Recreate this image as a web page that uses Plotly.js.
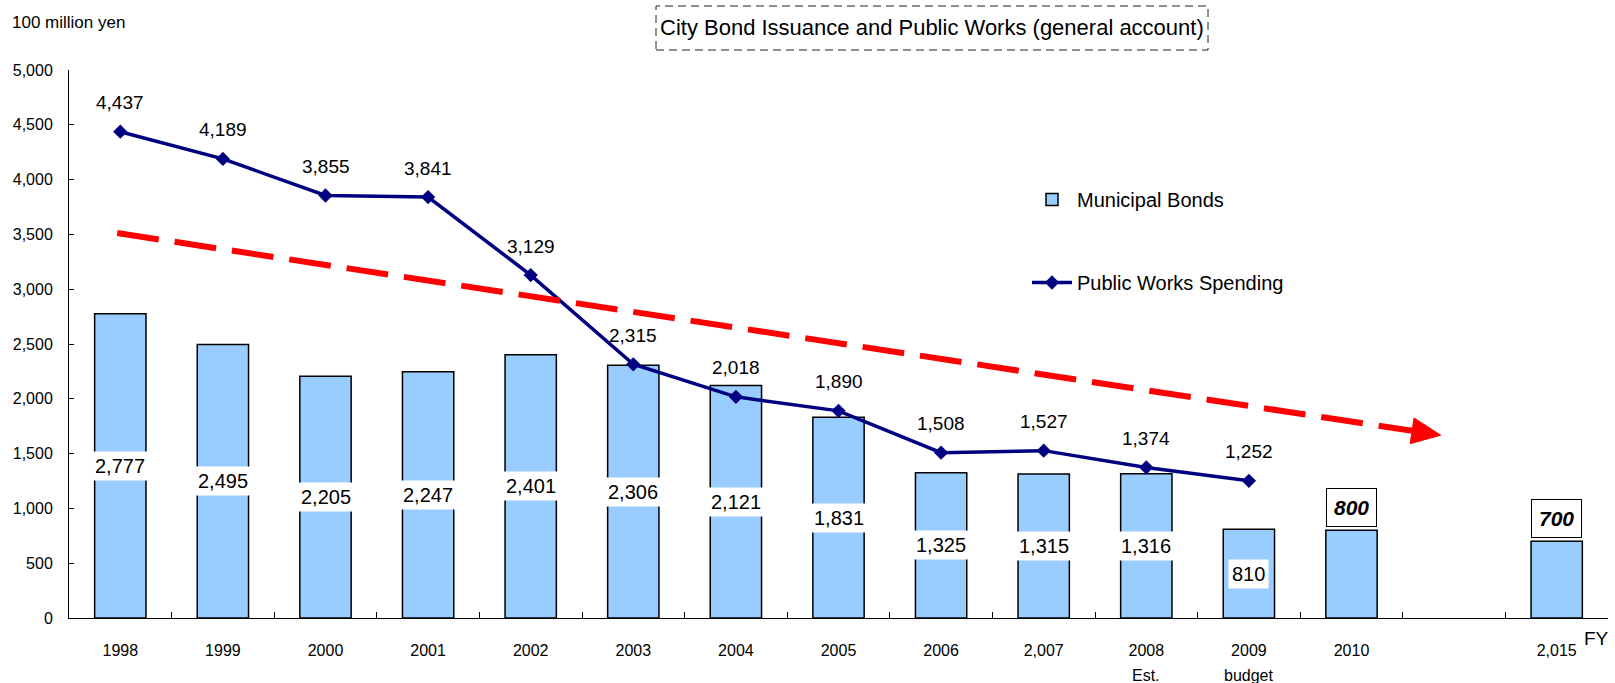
<!DOCTYPE html>
<html>
<head>
<meta charset="utf-8">
<script src="https://cdn.plot.ly/plotly-3.0.1.min.js"></script>
<style>
  html, body { margin: 0; padding: 0; background: #ffffff; }
  #chart { width: 1615px; height: 683px; }
</style>
</head>
<body>
<div id="chart"></div>
<script>
// ---------------- data ----------------
const categories = ["1998","1999","2000","2001","2002","2003","2004","2005","2006","2,007","2008","2009","2010"," ","2,015"];
const bondValues = [2777, 2495, 2205, 2247, 2401, 2306, 2121, 1831, 1325, 1315, 1316, 810, 800, null, 700];
const worksYears = ["1998","1999","2000","2001","2002","2003","2004","2005","2006","2,007","2008","2009"];
const worksValues = [4437, 4189, 3855, 3841, 3129, 2315, 2018, 1890, 1508, 1527, 1374, 1252];
const targetYears = ["2010", "2,015"];
const subLabelYears = ["2008", "2009"];
const subLabelTexts = ["Est.", "budget"];
// downward trend arrow (category index, value)
const trendX = [-0.03, 12.87];
const trendY = [3512, 1668];

// ---------------- geometry ----------------
const W = 1615, H = 683;
const M = { l: 69, r: 7, t: 70, b: 65 };
const PW = W - M.l - M.r, PH = H - M.t - M.b;
const YMAX = 5000;
const px2paperX = x => (x - M.l) / PW;
const px2paperY = y => (H - M.b - y) / PH;
const catIndex = c => categories.indexOf(c);

const FONT = "Liberation Sans, Arial, sans-serif";
const fmt = v => v.toLocaleString("en-US");

// ---------------- traces ----------------
const bars = {
  type: "bar",
  name: "Municipal Bonds",
  x: categories,
  y: bondValues,
  marker: { color: "#99CCFF", line: { color: "#000000", width: 1.5 } },
  legendgroup: "a",
  hoverinfo: "x+y"
};
const line = {
  type: "scatter",
  mode: "lines+markers",
  name: "Public Works Spending",
  x: worksYears,
  y: worksValues,
  line: { color: "#000080", width: 3.5 },
  marker: { symbol: "diamond", size: 11, color: "#000080" },
  legendgroup: "b",
  hoverinfo: "x+y"
};

// ---------------- annotations ----------------
const annotations = [];
// bar value labels
categories.forEach((c, i) => {
  const v = bondValues[i];
  if (v === null) return;
  if (targetYears.includes(c)) {
    annotations.push({
      x: i, y: v, xref: "x", yref: "y",
      text: "<b><i>" + fmt(v) + "</i></b>",
      showarrow: false, yanchor: "bottom", yshift: 3,
      font: { family: FONT, size: 21, color: "#000" },
      bgcolor: "#ffffff", bordercolor: "#000000", borderwidth: 1, borderpad: 7
    });
  } else {
    annotations.push({
      x: i, y: v / 2, xref: "x", yref: "y",
      text: fmt(v),
      showarrow: false,
      font: { family: FONT, size: 20, color: "#000" },
      bgcolor: "#ffffff", borderpad: 3
    });
  }
});
// line value labels
worksYears.forEach((c, i) => {
  annotations.push({
    x: catIndex(c), y: worksValues[i], xref: "x", yref: "y",
    text: fmt(worksValues[i]),
    showarrow: false, yshift: 29,
    font: { family: FONT, size: 19, color: "#000" }
  });
});
// sub labels below the x tick labels
subLabelYears.forEach((c, i) => {
  annotations.push({
    x: catIndex(c), y: px2paperY(675), xref: "x", yref: "paper",
    text: subLabelTexts[i], showarrow: false, yanchor: "middle",
    font: { family: FONT, size: 16, color: "#000" }
  });
});
// unit label
annotations.push({
  x: px2paperX(10), y: px2paperY(22), xref: "paper", yref: "paper",
  xanchor: "left", yanchor: "middle", showarrow: false,
  text: "100 million yen", font: { family: FONT, size: 17, color: "#000" }
});
// FY label
annotations.push({
  x: px2paperX(1611), y: px2paperY(638), xref: "paper", yref: "paper",
  xanchor: "right", yanchor: "middle", showarrow: false,
  text: "FY", font: { family: FONT, size: 19, color: "#000" }
});
// title
annotations.push({
  x: px2paperX(932), y: px2paperY(28), xref: "paper", yref: "paper",
  xanchor: "center", yanchor: "middle", showarrow: false,
  text: "City Bond Issuance and Public Works (general account)",
  font: { family: FONT, size: 22, color: "#000" }
});

// ---------------- shapes ----------------
const pxPerX = PW / categories.length;
const pxPerY = PH / YMAX;
const sx = trendX[0] * pxPerX, sy = -trendY[0] * pxPerY;
const ex = trendX[1] * pxPerX, ey = -trendY[1] * pxPerY;
const len = Math.hypot(ex - sx, ey - sy);
const ux = (ex - sx) / len, uy = (ey - sy) / len;
const headLen = 29, headHalf = 13;
const bx = ex - ux * headLen, by = ey - uy * headLen;
const toData = (x, y) => [x / pxPerX, -y / pxPerY];
const base = toData(bx, by);
const p1 = toData(bx - uy * headHalf, by + ux * headHalf);
const p2 = toData(bx + uy * headHalf, by - ux * headHalf);
const tip = [trendX[1], trendY[1]];

const shapes = [
  {
    type: "line", xref: "x", yref: "y", layer: "above",
    x0: trendX[0], y0: trendY[0], x1: base[0], y1: base[1],
    line: { color: "#FF0000", width: 6, dash: "42px,16px" }
  },
  {
    type: "path", xref: "x", yref: "y", layer: "above",
    path: `M ${p1[0]},${p1[1]} L ${tip[0]},${tip[1]} L ${p2[0]},${p2[1]} Z`,
    fillcolor: "#FF0000", line: { color: "#FF0000", width: 1 }
  },
  {
    type: "rect", xref: "paper", yref: "paper",
    x0: px2paperX(656), x1: px2paperX(1208), y0: px2paperY(50), y1: px2paperY(6),
    line: { color: "#222222", width: 1, dash: "8px,5px" }, fillcolor: "rgba(0,0,0,0)"
  }
];

// ---------------- layout ----------------
const layout = {
  width: W, height: H,
  margin: M,
  paper_bgcolor: "#ffffff", plot_bgcolor: "#ffffff",
  font: { family: FONT, size: 16, color: "#000" },
  showlegend: true,
  legend: {
    x: px2paperX(1027), y: px2paperY(180), xanchor: "left", yanchor: "top",
    font: { family: FONT, size: 20, color: "#000" },
    traceorder: "grouped", tracegroupgap: 54, bgcolor: "rgba(0,0,0,0)",
    itemwidth: 40
  },
  bargap: 0.5,
  xaxis: {
    type: "category",
    range: [-0.5, categories.length - 0.5],
    showline: true, linecolor: "#000", linewidth: 1,
    ticks: "inside", ticklen: 6, tickcolor: "#000", tickson: "boundaries",
    showgrid: false, zeroline: false,
    tickfont: { family: FONT, size: 16, color: "#000" },
    ticklabelstandoff: 18
  },
  yaxis: {
    range: [0, YMAX], dtick: 500, tickformat: ",",
    showline: true, linecolor: "#000", linewidth: 1,
    ticks: "inside", ticklen: 5, tickcolor: "#000",
    showgrid: false, zeroline: false,
    tickfont: { family: FONT, size: 16, color: "#000" },
    ticklabelstandoff: 12
  },
  annotations: annotations,
  shapes: shapes
};

Plotly.newPlot("chart", [bars, line], layout, { displayModeBar: false, staticPlot: true });
</script>
</body>
</html>
